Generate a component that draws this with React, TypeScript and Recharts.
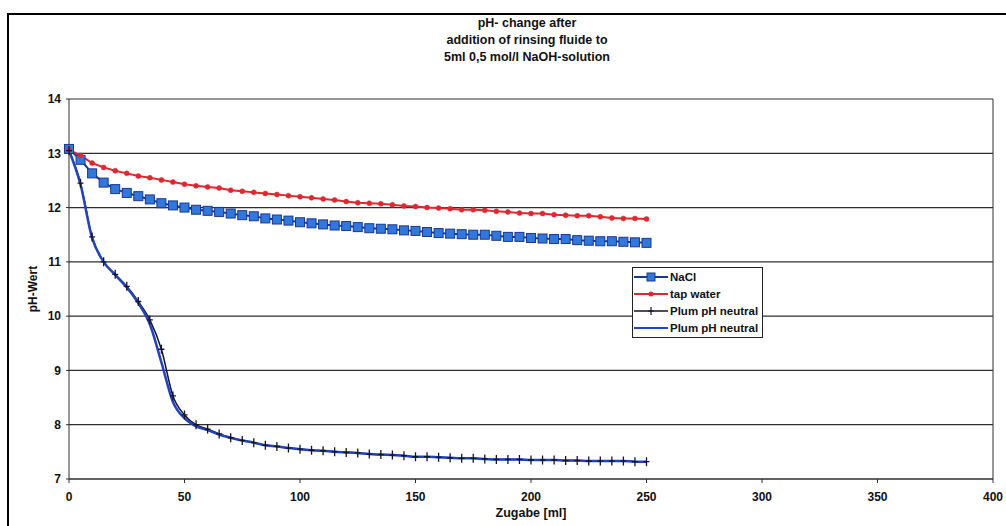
import { LineChart, Line, XAxis, YAxis, CartesianGrid, Legend, ReferenceLine, Label } from "recharts"

// Zugabe [ml]
const zugabe = [
  0, 5, 10, 15, 20, 25, 30, 35, 40, 45, 50, 55, 60, 65, 70, 75, 80, 85, 90, 95, 100,
  105, 110, 115, 120, 125, 130, 135, 140, 145, 150, 155, 160, 165, 170, 175, 180, 185,
  190, 195, 200, 205, 210, 215, 220, 225, 230, 235, 240, 245, 250,
]

const nacl = [
  13.08, 12.88, 12.63, 12.46, 12.34, 12.27, 12.21, 12.15, 12.08, 12.04, 12.0, 11.96, 11.94,
  11.92, 11.89, 11.86, 11.84, 11.8, 11.78, 11.76, 11.73, 11.71, 11.69, 11.67, 11.66, 11.64,
  11.62, 11.61, 11.6, 11.58, 11.57, 11.55, 11.53, 11.52, 11.51, 11.5, 11.5, 11.48, 11.46,
  11.46, 11.44, 11.43, 11.42, 11.42, 11.4, 11.39, 11.38, 11.38, 11.37, 11.36, 11.35,
]

const tapWater = [
  13.06, 12.96, 12.82, 12.74, 12.68, 12.63, 12.58, 12.55, 12.51, 12.47, 12.43, 12.4, 12.38,
  12.36, 12.32, 12.3, 12.28, 12.26, 12.24, 12.22, 12.2, 12.18, 12.16, 12.14, 12.11, 12.09,
  12.08, 12.07, 12.05, 12.03, 12.02, 12.0, 11.99, 11.98, 11.96, 11.96, 11.95, 11.93, 11.92,
  11.9, 11.89, 11.89, 11.87, 11.86, 11.85, 11.85, 11.83, 11.81, 11.8, 11.8, 11.79,
]

const plum = [
  13.05, 12.45, 11.46, 11.0, 10.77, 10.55, 10.27, 9.93, 9.39, 8.53, 8.18, 8.0, 7.92, 7.83,
  7.76, 7.71, 7.67, 7.62, 7.6, 7.57, 7.55, 7.53, 7.52, 7.5, 7.49, 7.48, 7.46, 7.45, 7.44,
  7.43, 7.41, 7.41, 7.4, 7.39, 7.38, 7.38, 7.37, 7.36, 7.36, 7.36, 7.35, 7.35, 7.35, 7.34,
  7.34, 7.33, 7.33, 7.33, 7.33, 7.32, 7.32,
]

const plumBlue = [
  13.05, 12.42, 11.44, 11.0, 10.76, 10.53, 10.24, 9.85, 9.15, 8.42, 8.12, 7.97, 7.9, 7.82,
  7.76, 7.71, 7.67, 7.62, 7.6, 7.57, 7.55, 7.53, 7.52, 7.5, 7.49, 7.48, 7.46, 7.45, 7.44,
  7.43, 7.41, 7.41, 7.4, 7.39, 7.38, 7.38, 7.37, 7.36, 7.36, 7.36, 7.35, 7.35, 7.35, 7.34,
  7.34, 7.33, 7.33, 7.33, 7.33, 7.32, 7.32,
]

const xTicks = [0, 50, 100, 150, 200, 250, 300, 350, 400]
const yTicks = [7, 8, 9, 10, 11, 12, 13, 14]

const titleLines = ["pH- change after", "addition of rinsing fluide to", "5ml 0,5 mol/l NaOH-solution"]

const legendOrder = ["nacl", "tap", "plum", "plum2"]

const data = zugabe.map((x, i) => ({
  x,
  nacl: nacl[i],
  tap: tapWater[i],
  plum: plum[i],
  plum2: plumBlue[i],
}))

const FONT = '"Liberation Sans", Arial, sans-serif'
const NAVY = "#1c3597"
const SQUARE = "#2f78dc"
const RED = "#e3262d"
const DARK = "#15152a"
const BLUE = "#1f43c4"

function SquareDot(props: any) {
  const { cx, cy, index } = props
  if (cx == null || cy == null) return null
  return <rect key={index} x={cx - 4.5} y={cy - 4.5} width={9} height={9} fill={SQUARE} stroke={NAVY} strokeWidth={1} />
}

function PlusDot(props: any) {
  const { cx, cy, index } = props
  if (cx == null || cy == null) return null
  return <path key={index} d={`M${cx - 3},${cy}h6M${cx},${cy - 4.5}v9`} stroke={DARK} strokeWidth={1.3} fill="none" />
}

function LegendIcon({ k }: { k: string }) {
  if (k === "nacl")
    return (
      <svg width={36} height={12}>
        <line x1={1} y1={6} x2={35} y2={6} stroke={NAVY} strokeWidth={2} />
        <rect x={14} y={2} width={8} height={8} fill={SQUARE} stroke={NAVY} />
      </svg>
    )
  if (k === "tap")
    return (
      <svg width={36} height={12}>
        <line x1={1} y1={6} x2={35} y2={6} stroke={RED} strokeWidth={2} />
        <circle cx={18} cy={6} r={2.5} fill={RED} />
      </svg>
    )
  if (k === "plum")
    return (
      <svg width={36} height={12}>
        <line x1={1} y1={6} x2={35} y2={6} stroke={DARK} strokeWidth={1.5} />
        <path d="M15,6h6M18,2v8" stroke={DARK} strokeWidth={1.2} />
      </svg>
    )
  return (
    <svg width={36} height={12}>
      <line x1={1} y1={6} x2={35} y2={6} stroke={BLUE} strokeWidth={2} />
    </svg>
  )
}

function LegendBox(props: any) {
  const items = [...(props.payload || [])].sort(
    (a: any, b: any) => legendOrder.indexOf(a.dataKey) - legendOrder.indexOf(b.dataKey)
  )
  return (
    <div
      style={{
        border: "1px solid #222",
        background: "#fff",
        width: 129,
        padding: "0 0 1px 0",
        fontFamily: FONT,
        fontWeight: "bold",
        fontSize: 11.5,
        color: "#111",
      }}
    >
      {items.map((it: any) => (
        <div key={it.dataKey} style={{ display: "flex", alignItems: "center", height: 17 }}>
          <LegendIcon k={it.dataKey} />
          <span style={{ marginLeft: 1 }}>{it.value}</span>
        </div>
      ))}
    </div>
  )
}

export default function App() {
  return (
    <div style={{ position: "absolute", left: 0, top: 0, width: 1006, height: 526, background: "#fff", overflow: "hidden" }}>
      <div
        style={{
          position: "absolute",
          left: 7,
          top: 13,
          width: 1010,
          height: 530,
          borderTop: "2px solid #000",
          borderLeft: "2px solid #000",
        }}
      />
      <div
        style={{
          position: "absolute",
          left: 377,
          top: 15,
          width: 300,
          textAlign: "center",
          fontFamily: FONT,
          fontWeight: "bold",
          fontSize: 12.5,
          lineHeight: "17px",
          color: "#111",
          zIndex: 2,
        }}
      >
        {titleLines.map((t) => (
          <div key={t}>{t}</div>
        ))}
      </div>
      <LineChart
        width={1006}
        height={526}
        data={data}
        margin={{ top: 99, right: 13, bottom: 0, left: 8 }}
        style={{ fontFamily: FONT }}
      >
        <CartesianGrid vertical={false} stroke="#2e2e2e" strokeWidth={1.2} />
        <XAxis
          dataKey="x"
          type="number"
          domain={[0, 400]}
          ticks={xTicks}
          height={47}
          tickSize={4}
          tickMargin={9}
          stroke="#2e2e2e"
          tick={{ fill: "#111", fontSize: 12, fontWeight: "bold" }}
        >
          <Label
            content={(p: any) => (
              <text
                x={p.viewBox.x + p.viewBox.width / 2}
                y={517}
                textAnchor="middle"
                fontSize={12.5}
                fontWeight="bold"
                fill="#111"
                fontFamily={FONT}
              >
                Zugabe [ml]
              </text>
            )}
          />
        </XAxis>
        <YAxis
          domain={[7, 14]}
          ticks={yTicks}
          width={61}
          tickSize={3}
          tickMargin={5}
          stroke="#2e2e2e"
          tick={{ fill: "#111", fontSize: 12, fontWeight: "bold" }}
        >
          <Label
            content={(p: any) => {
              const cy = p.viewBox.y + p.viewBox.height / 2
              return (
                <text
                  x={33}
                  y={cy}
                  transform={`rotate(-90 33 ${cy})`}
                  textAnchor="middle"
                  dominantBaseline="central"
                  fontSize={12}
                  fontWeight="bold"
                  fill="#111"
                  fontFamily={FONT}
                >
                  pH-Wert
                </text>
              )
            }}
          />
        </YAxis>
        <ReferenceLine x={400} stroke="#2e2e2e" strokeWidth={1} />
        <Legend
          layout="vertical"
          align="center"
          verticalAlign="middle"
          wrapperStyle={{ left: 632, top: 267, width: "auto" }}
          content={<LegendBox />}
        />
        <Line
          dataKey="nacl"
          name="NaCl"
          type="linear"
          stroke={NAVY}
          strokeWidth={2}
          dot={<SquareDot />}
          activeDot={false}
          isAnimationActive={false}
        />
        <Line
          dataKey="tap"
          name="tap water"
          type="linear"
          stroke={RED}
          strokeWidth={2}
          dot={{ r: 2.5, fill: RED, stroke: RED, strokeWidth: 0.5 }}
          activeDot={false}
          isAnimationActive={false}
        />
        <Line
          dataKey="plum"
          name="Plum pH neutral"
          type="monotone"
          stroke={DARK}
          strokeWidth={1.5}
          dot={<PlusDot />}
          activeDot={false}
          isAnimationActive={false}
        />
        <Line
          dataKey="plum2"
          name="Plum pH neutral"
          type="monotone"
          stroke={BLUE}
          strokeWidth={2.5}
          dot={false}
          activeDot={false}
          isAnimationActive={false}
        />
      </LineChart>
    </div>
  )
}
